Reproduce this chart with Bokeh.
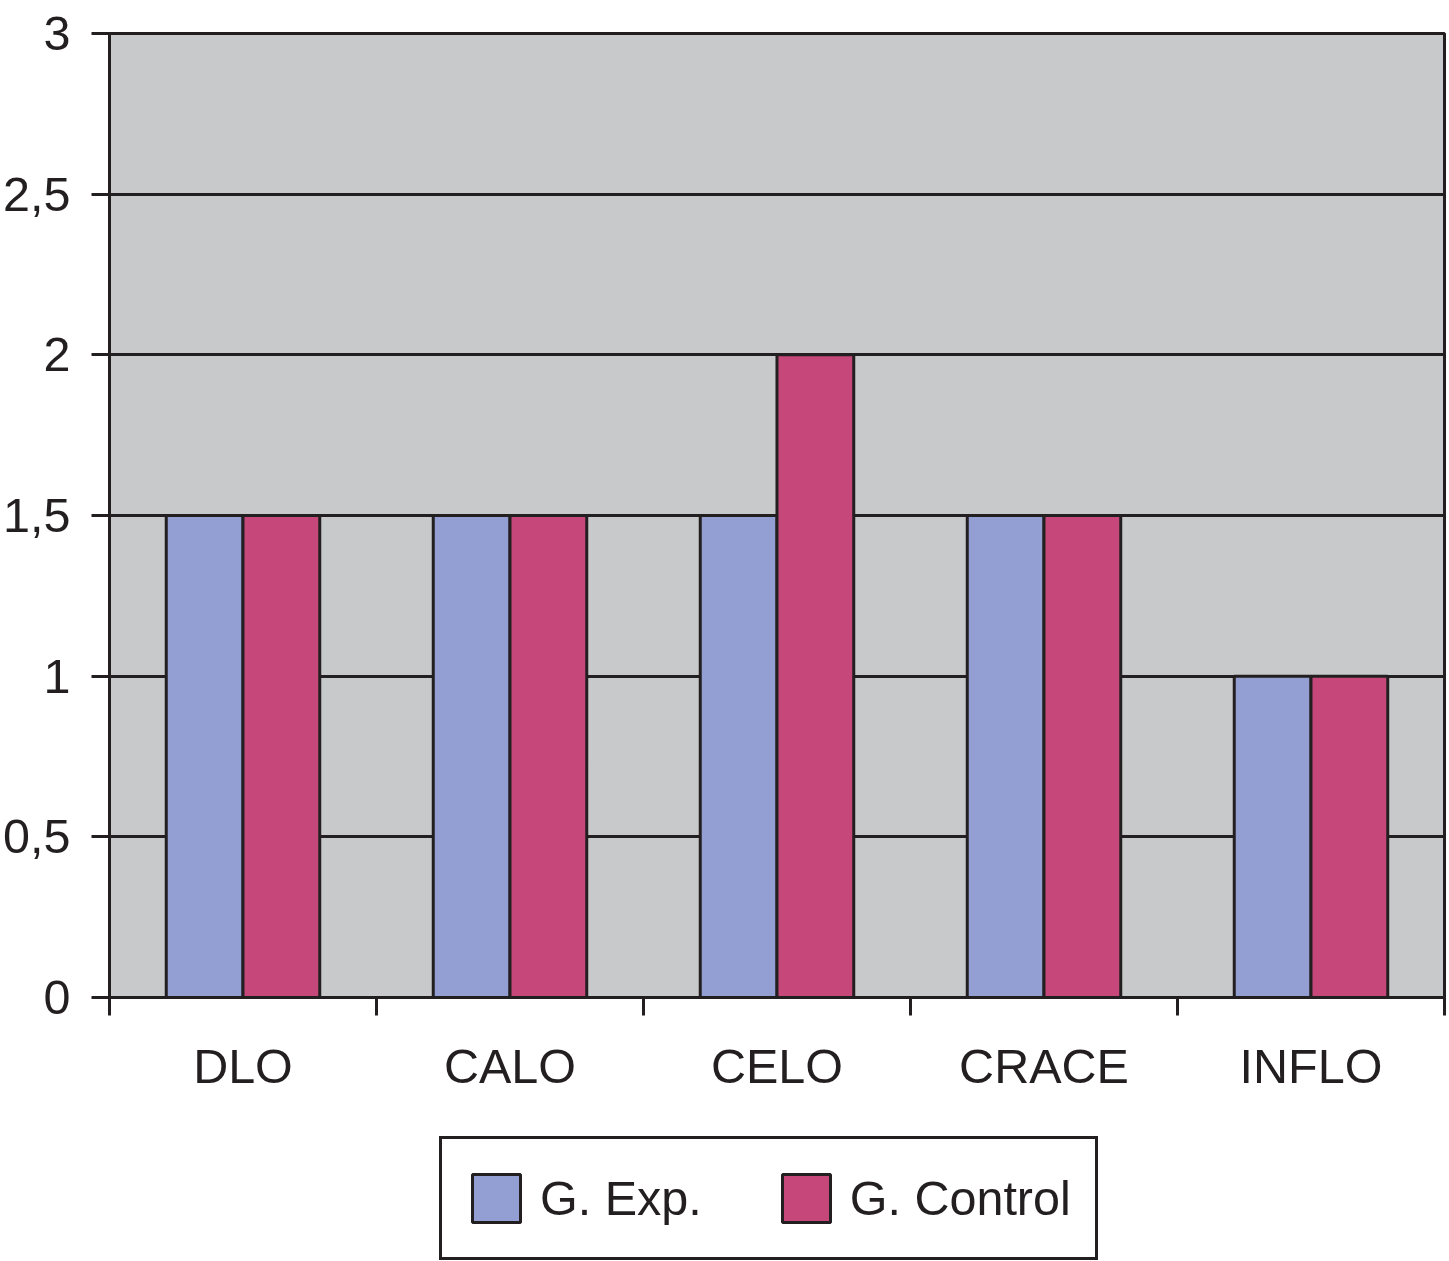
from bokeh.plotting import figure
from bokeh.models import Range1d, FixedTicker, Legend, LegendItem, ColumnDataSource
from bokeh.layouts import column
from bokeh.embed import file_html
from bokeh.resources import INLINE
import numpy as np

# ---- data ----
categories = ["DLO", "CALO", "CELO", "CRACE", "INFLO"]
g_exp = [1.5, 1.5, 1.5, 1.5, 1.0]
g_control = [1.5, 1.5, 2.0, 1.5, 1.0]
series_names = ["G. Exp.", "G. Control"]
y_ticks = [0, 0.5, 1, 1.5, 2, 2.5, 3]
y_tick_labels = ["0", "0,5", "1", "1,5", "2", "2,5", "3"]

DARK = "#231f20"
BLUE = "#939fd2"
RED = "#c6487b"
GREY = "#c8c9cb"
FONT = "Liberation Sans"
FS = "48.5px"

idx = np.arange(len(categories))
centers = idx + 0.5
bar_w = 0.2875
off = 0.1437

# ---------------- main chart ----------------
p = figure(width=1449, height=1120, output_backend="svg", toolbar_location=None,
           x_range=Range1d(0, len(categories)), y_range=Range1d(0, 3))
p.min_border_left = 106
p.min_border_right = 5
p.min_border_top = 33
p.min_border_bottom = 123
p.background_fill_color = GREY
p.border_fill_color = "white"
p.outline_line_color = DARK
p.outline_line_width = 3

src_e = ColumnDataSource(dict(x=centers - off, top=g_exp))
src_c = ColumnDataSource(dict(x=centers + off, top=g_control))
p.vbar(x="x", top="top", bottom=0, width=bar_w, source=src_e,
       fill_color=BLUE, line_color=DARK, line_width=3)
p.vbar(x="x", top="top", bottom=0, width=bar_w, source=src_c,
       fill_color=RED, line_color=DARK, line_width=3)

p.xgrid.grid_line_color = None
p.ygrid.ticker = FixedTicker(ticks=y_ticks)
p.ygrid.grid_line_color = DARK
p.ygrid.grid_line_width = 3
p.ygrid.grid_line_alpha = 1

ya = p.yaxis[0]
ya.ticker = FixedTicker(ticks=y_ticks)
ya.major_label_overrides = {t: l for t, l in zip(y_ticks, y_tick_labels)}
ya.axis_line_color = DARK
ya.axis_line_width = 3
ya.major_tick_line_color = DARK
ya.major_tick_line_width = 3
ya.major_tick_out = 18
ya.major_tick_in = 0
ya.minor_tick_line_color = None
ya.major_label_standoff = 21
ya.major_label_text_font = FONT
ya.major_label_text_font_size = FS
ya.major_label_text_color = DARK

xa = p.xaxis[0]
xa.ticker = FixedTicker(ticks=list(centers), minor_ticks=list(range(len(categories) + 1)))
xa.major_label_overrides = {float(c): n for c, n in zip(centers, categories)}
xa.axis_line_color = DARK
xa.axis_line_width = 3
xa.major_tick_line_color = None
xa.minor_tick_line_color = DARK
xa.minor_tick_line_width = 3
xa.minor_tick_out = 18
xa.minor_tick_in = 0
xa.major_tick_out = 18
xa.major_tick_in = 0
xa.major_label_standoff = 23
xa.major_label_text_font = FONT
xa.major_label_text_font_size = FS
xa.major_label_text_color = DARK

# ---------------- legend strip ----------------
# the same series are attached here only to give the legend its swatches;
# the renderers themselves are hidden
q = figure(width=1449, height=141, output_backend="svg", toolbar_location=None,
           x_range=Range1d(0, len(categories)), y_range=Range1d(0, 3),
           x_axis_location=None, y_axis_location=None, title=None)
q.min_border = 0
q.outline_line_color = None
q.background_fill_color = "white"
q.border_fill_color = "white"
q.xgrid.grid_line_color = None
q.ygrid.grid_line_color = None
q1 = q.vbar(x="x", top="top", bottom=0, width=bar_w, source=src_e,
            fill_color=BLUE, line_color=DARK, line_width=3, visible=False)
q2 = q.vbar(x="x", top="top", bottom=0, width=bar_w, source=src_c,
            fill_color=RED, line_color=DARK, line_width=3, visible=False)

legend = Legend(items=[LegendItem(label=series_names[0], renderers=[q1]),
                       LegendItem(label=series_names[1], renderers=[q2])],
                orientation="horizontal", location=(330, 1), click_policy="none")
legend.glyph_width = 60
legend.glyph_height = 60
legend.label_height = 70
legend.label_standoff = 14
legend.spacing = 74
legend.padding = 24
legend.margin = 0
legend.label_text_font = FONT
legend.label_text_font_size = FS
legend.label_text_color = DARK
legend.border_line_color = DARK
legend.border_line_width = 3
legend.border_line_alpha = 1
legend.background_fill_color = "white"
legend.background_fill_alpha = 1
q.add_layout(legend, "center")

page = column(p, q, spacing=0)
open("out.html", "w").write(file_html(page, INLINE))
